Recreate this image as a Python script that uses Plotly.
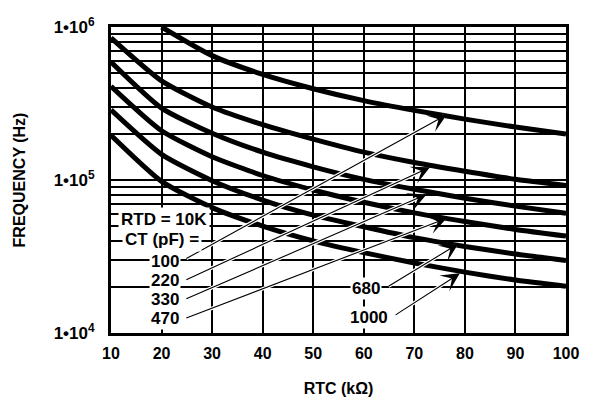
import plotly.graph_objects as go

# ---- data ----
rtc = [10, 20, 30, 40, 50, 60, 70, 80, 90, 100]          # RTC in kOhm
rtc_100 = [20, 30, 40, 50, 60, 70, 80, 90, 100]           # 100 pF curve starts at 20k
f_100 = [1.0e6, 6.5e5, 4.9e5, 3.95e5, 3.3e5, 2.85e5, 2.5e5, 2.22e5, 2.0e5]
f_220 = [8.5e5, 4.45e5, 3.0e5, 2.3e5, 1.85e5, 1.52e5, 1.3e5, 1.14e5, 1.01e5, 9.2e4]
f_330 = [5.9e5, 2.95e5, 2.02e5, 1.52e5, 1.22e5, 1.01e5, 8.7e4, 7.6e4, 6.75e4, 6.05e4]
f_470 = [4.1e5, 2.1e5, 1.42e5, 1.07e5, 8.6e4, 7.15e4, 6.1e4, 5.35e4, 4.75e4, 4.3e4]
f_680 = [2.87e5, 1.47e5, 9.9e4, 7.4e4, 5.9e4, 4.95e4, 4.2e4, 3.68e4, 3.28e4, 2.98e4]
f_1000 = [1.96e5, 9.8e4, 6.6e4, 5.0e4, 4.0e4, 3.35e4, 2.87e4, 2.5e4, 2.22e4, 2.02e4]

ct_labels = ["100", "220", "330", "470", "680", "1000"]
x_ticks = [10, 20, 30, 40, 50, 60, 70, 80, 90, 100]
x_ticktext = ["10", "20", "30", "40", "50", "60", "70", "80", "90", "100"]
y_decades = [1e4, 1e5, 1e6]
y_decade_text = ["1•10<sup>4</sup>", "1•10<sup>5</sup>", "1•10<sup>6</sup>"]
header_lines = ["RTD = 10K", "CT (pF) ="]
x_title = "RTC (kΩ)"
y_title = "FREQUENCY (Hz)"

# ---- annotation placement (label centre, arrow tail, arrow tip; x in kOhm, y in log10 Hz) ----
header_pos = [(20.5, 4.741), (20.0, 4.609)]
label_pos = [(20.7, 4.466), (20.7, 4.344), (20.7, 4.222), (20.7, 4.094), (60.4, 4.291), (61.0, 4.103)]
tail_pos = [(24.6, 4.481), (24.6, 4.344), (24.6, 4.219), (24.6, 4.094), (64.6, 4.300), (66.0, 4.112)]
tip_pos = [(76.4, 5.427), (73.1, 5.083), (72.4, 4.906), (76.4, 4.750), (78.7, 4.583), (79.0, 4.390)]

FONT = "Liberation Sans, Arial, Helvetica, sans-serif"
FS = 16

fig = go.Figure()
curves = [(rtc_100, f_100), (rtc, f_220), (rtc, f_330), (rtc, f_470), (rtc, f_680), (rtc, f_1000)]
for (xs, ys), name in zip(curves, ct_labels):
    fig.add_trace(go.Scatter(
        x=xs, y=ys, mode="lines", name=name,
        line=dict(color="black", width=5, shape="spline", smoothing=0.6),
        showlegend=False, hoverinfo="skip",
    ))

# y ticks / grid: every 1..9 per decade, labels only at decades
y_tickvals, y_ticktext = [], []
for d, t in zip(y_decades[:-1], y_decade_text[:-1]):
    for k in range(1, 10):
        y_tickvals.append(k * d)
        y_ticktext.append(t if k == 1 else "")
y_tickvals.append(y_decades[-1])
y_ticktext.append(y_decade_text[-1])

annotations = []
# white-cased arrows then black arrows
for (tx, ty), (hx, hy) in zip(tail_pos, tip_pos):
    annotations.append(dict(
        x=hx, y=hy, ax=tx, ay=ty, xref="x", yref="y", axref="x", ayref="y",
        text="", showarrow=True, arrowhead=0, arrowwidth=3.5, arrowcolor="white", standoff=3,
    ))
for (tx, ty), (hx, hy) in zip(tail_pos, tip_pos):
    annotations.append(dict(
        x=hx, y=hy, ax=tx, ay=ty, xref="x", yref="y", axref="x", ayref="y",
        text="", showarrow=True, arrowhead=3, arrowsize=2.8, arrowwidth=1.1, arrowcolor="black", standoff=0,
    ))
for txt, (px, py) in zip(header_lines, header_pos):
    annotations.append(dict(
        x=px, y=py, xref="x", yref="y", text="<b>%s</b>" % txt, showarrow=False,
        font=dict(family=FONT, size=17, color="black"), bgcolor="white", borderpad=2,
    ))
for txt, (px, py) in zip(ct_labels, label_pos):
    annotations.append(dict(
        x=px, y=py, xref="x", yref="y", text="<b>%s</b>" % txt, showarrow=False,
        font=dict(family=FONT, size=17, color="black"), bgcolor="white", borderpad=1,
    ))

# page body has an 8px margin, so the figure is sized/positioned to compensate
fig.update_layout(
    width=583, height=394,
    margin=dict(l=103, r=25, t=7, b=67),
    paper_bgcolor="white", plot_bgcolor="white",
    font=dict(family=FONT, size=FS, color="black"),
    annotations=annotations,
    xaxis=dict(
        range=[10, 100], tickvals=x_ticks, ticktext=["<b>%s</b>" % t for t in x_ticktext],
        showgrid=True, gridcolor="black", gridwidth=2,
        showline=True, linecolor="black", linewidth=3, mirror=True,
        ticks="", zeroline=False, tickfont=dict(size=FS), ticklabelstandoff=4,
        ticklabeloverflow="allow",
        title=dict(text="<b>%s</b>" % x_title, font=dict(size=FS), standoff=22),
    ),
    yaxis=dict(
        type="log", range=[4, 6], tickvals=y_tickvals,
        ticktext=["<b>%s</b>" % t if t else "" for t in y_ticktext],
        showgrid=True, gridcolor="black", gridwidth=2,
        showline=True, linecolor="black", linewidth=3, mirror=True,
        ticks="", zeroline=False, tickfont=dict(size=17), ticklabelstandoff=10,
        ticklabeloverflow="allow",
        title=dict(text="<b>%s</b>" % y_title, font=dict(size=FS), standoff=25),
    ),
)

fig.write_html("out.html")
